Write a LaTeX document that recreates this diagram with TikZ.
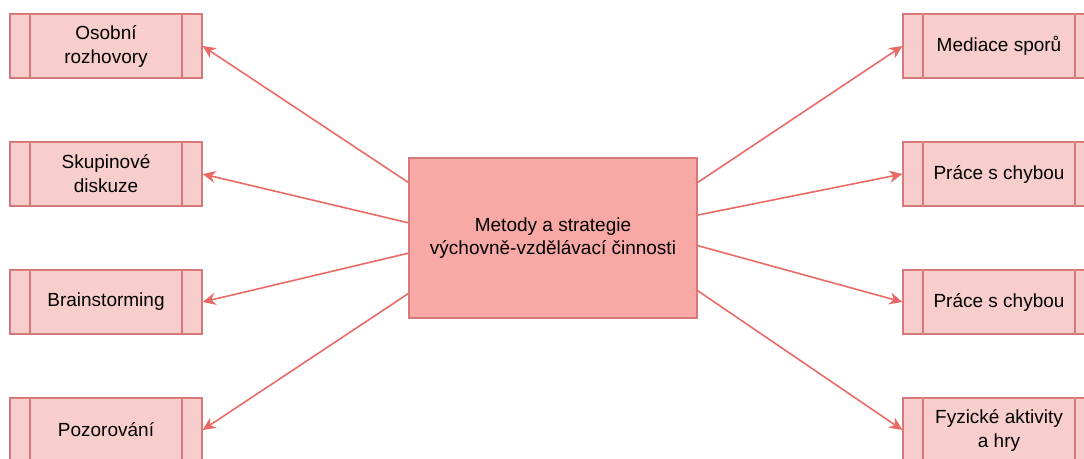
\documentclass[tikz,border=0pt]{standalone}
\usepackage{fontspec}
\setmainfont{Liberation Sans}
\usetikzlibrary{arrows.meta}
\definecolor{boxfill}{HTML}{F8CECC}
\definecolor{mainfill}{HTML}{F8A9A5}
\definecolor{boxedge}{HTML}{D7797A}
\definecolor{arrowred}{HTML}{EA6B66}

\begin{document}
\begin{tikzpicture}[x=1pt, y=-1pt,
    method_box/.style={rectangle, draw=boxedge, fill=boxfill, line width=1.2pt,
        minimum width=192pt, minimum height=64pt, inner sep=0pt, align=center,
        font=\fontsize{19}{24}\selectfont,
        path picture={\draw[boxedge, line width=2.4pt]
            ([xshift=20pt]path picture bounding box.north west) -- ([xshift=20pt]path picture bounding box.south west)
            ([xshift=-20pt]path picture bounding box.north east) -- ([xshift=-20pt]path picture bounding box.south east);}},
    main_box/.style={rectangle, draw=boxedge, fill=mainfill, line width=1.2pt,
        minimum width=288pt, minimum height=160pt, inner sep=0pt, align=center,
        font=\fontsize{19}{23}\selectfont},
    link/.style={draw=arrowred, line width=1.6pt, -{Stealth[length=13pt, width=12pt, inset=4pt]}}]
        \useasboundingbox (0, 0) rectangle (1084, 458);

        \node[main_box] (methods) at (553, 238) {Metody a strategie\\výchovně-vzdělávací činnosti};

        % left column
        \node[method_box] (talks) at (106, 46) {Osobní\\rozhovory};
        \node[method_box] (discussion) at (106, 174) {Skupinové\\diskuze};
        \node[method_box] (brainstorming) at (106, 302) {Brainstorming};
        \node[method_box] (observation) at (106, 430) {Pozorování};

        % right column
        \node[method_box] (mediation) at (999, 46) {Mediace sporů};
        \node[method_box] (mistakes_a) at (999, 174) {Práce s chybou};
        \node[method_box] (mistakes_b) at (999, 302) {Práce s chybou};
        \node[method_box] (activities) at (999, 430) {Fyzické aktivity\\a hry};

        \draw[link] (methods.159) -- (talks.east);
        \draw[link] (methods.174) -- (discussion.east);
        \draw[link] (methods.186) -- (brainstorming.east);
        \draw[link] (methods.201) -- (observation.east);

        \draw[link] (methods.21) -- (mediation.west);
        \draw[link] (methods.9) -- (mistakes_a.west);
        \draw[link] (methods.357) -- (mistakes_b.west);
        \draw[link] (methods.340) -- (activities.west);
    \end{tikzpicture}
\end{document}
